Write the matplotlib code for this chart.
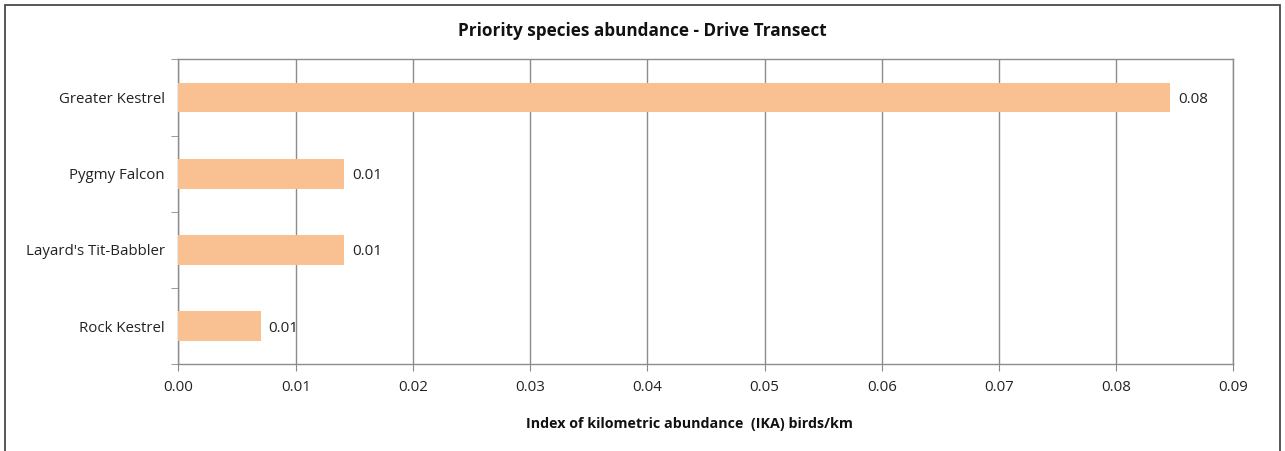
import matplotlib.pyplot as plt
from matplotlib.patches import Rectangle
from matplotlib.ticker import MultipleLocator, FixedLocator

# Data
species = ["Rock Kestrel", "Layard's Tit-Babbler", "Pygmy Falcon", "Greater Kestrel"]
ika = [0.0070, 0.0141, 0.0141, 0.0846]

plt.rcParams['font.family'] = ['Open Sans', 'DejaVu Sans']

fig = plt.figure(figsize=(12.85, 4.51), dpi=100)
ax = fig.add_axes([0.1389, 0.1922, 0.8209, 0.6763])

# Outer chart frame
fig.patches.append(Rectangle((0.004, -0.01), 0.992, 0.998, transform=fig.transFigure,
                             fill=False, edgecolor='#4a4a4a', linewidth=1.3))

ypos = range(len(species))
bars = ax.barh(ypos, ika, height=0.39, color='#F9C191', zorder=3)

for b, v in zip(bars, ika):
    ax.text(v + 0.0007, b.get_y() + b.get_height() / 2, f"{v:.2f}",
            va='center_baseline', ha='left', fontsize=11, color='#222222')

ax.set_xlim(0, 0.09)
ax.set_ylim(-0.5, len(species) - 0.5)
ax.xaxis.set_major_locator(MultipleLocator(0.01))
ax.xaxis.set_major_formatter(lambda x, pos: f"{x:.2f}")
ax.set_yticks(list(ypos))
ax.set_yticklabels(species)
ax.yaxis.set_minor_locator(FixedLocator([i - 0.5 for i in range(len(species) + 1)]))
ax.tick_params(axis='y', which='major', length=0, pad=10, labelsize=10.8, labelcolor='#222222')
ax.tick_params(axis='y', which='minor', length=5, color='#888888')
ax.tick_params(axis='x', length=5, color='#888888', labelsize=10.8, labelcolor='#222222', pad=6)

ax.grid(axis='x', color='#8c8c8c', linewidth=1, zorder=0)
for s in ax.spines.values():
    s.set_color('#8c8c8c')
    s.set_linewidth(1)

fig.text(0.5, 1 - 31 / 451, "Priority species abundance - Drive Transect",
         ha='center', va='center', fontsize=12.3, fontweight='bold', color='#111111')
fig.text(689 / 1285, 1 - 424 / 451, "Index of kilometric abundance  (IKA) birds/km",
         ha='center', va='center', fontsize=10.3, fontweight='bold', color='#111111')

fig.savefig("out.png", dpi=100)
